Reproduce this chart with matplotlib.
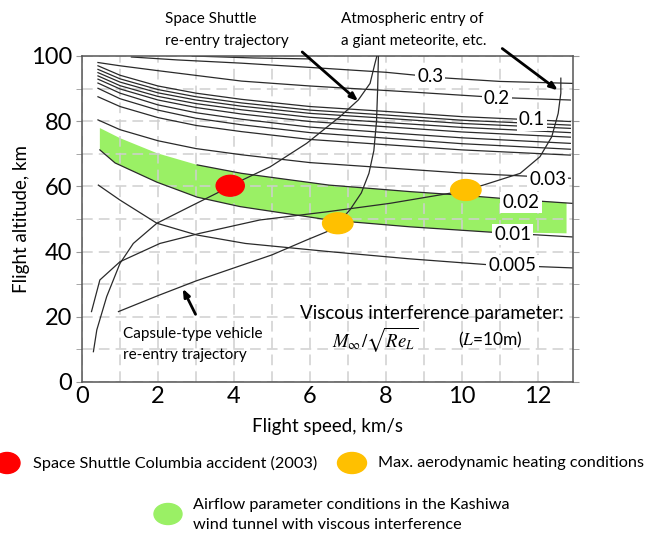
import matplotlib.pyplot as plt
from matplotlib.patches import Ellipse
from matplotlib.ticker import MultipleLocator

plt.rcParams["font.family"] = ["Lato", "DejaVu Sans"]
plt.rcParams["mathtext.fontset"] = "stix"

# viscous interference parameter contours
fan_x = [0.42, 1.0, 2.0, 3.0, 4.2, 6.0, 8.0, 10.0, 12.85]
fan_lines = [
    [97.0, 94.1, 90.8, 88.6, 86.7, 84.5, 83.0, 81.4, 79.9],  # 0.1
    [95.9, 93.0, 89.7, 87.5, 85.6, 83.4, 81.9, 80.3, 78.8],
    [94.9, 92.0, 88.7, 86.5, 84.6, 82.4, 80.9, 79.3, 77.8],
    [93.9, 90.9, 87.6, 85.4, 83.5, 81.2, 79.6, 78.1, 76.5],
    [92.9, 89.9, 86.5, 84.2, 82.2, 79.9, 78.3, 76.7, 75.1],
    [91.7, 88.6, 85.0, 82.6, 80.6, 78.2, 76.5, 74.9, 73.2],
    [90.1, 86.9, 83.4, 80.9, 78.9, 76.5, 74.8, 73.1, 71.4],
    [87.5, 84.5, 81.1, 78.7, 76.8, 74.4, 72.8, 71.2, 69.6],
    [80.4, 77.4, 74.0, 71.6, 69.7, 67.3, 65.7, 64.1, 62.5],  # 0.03
]
p03_x = [1.3, 2.5, 4.2, 6.0, 8.0, 9.5, 11.0, 12.9]
p03_y = [99.7, 98.8, 97.8, 96.5, 95.0, 93.3, 92.2, 91.6]
p04_x = [2.9, 4.5, 6.0]
p04_y = [100.0, 99.4, 99.1]
p02_x = [0.42, 1.0, 2.0, 4.2, 6.0, 8.6, 10.9, 12.85]
p02_y = [98.0, 97.0, 95.5, 92.3, 90.8, 89.0, 87.3, 86.5]
p002_x = [3.03, 4.2, 6.5, 8.63, 10.0, 11.5, 12.9]
p002_y = [66.6, 64.0, 60.4, 58.4, 57.3, 55.9, 54.8]
p001_x = [0.47, 0.87, 1.97, 3.03, 4.16, 6.5, 8.63, 10.7, 12.9]
p001_y = [71.2, 67.2, 61.3, 56.7, 53.8, 49.7, 47.6, 46.0, 44.5]
p0005_x = [0.43, 1.0, 1.97, 3.02, 4.3, 6.5, 8.6, 10.66, 12.9]
p0005_y = [60.4, 55.8, 48.7, 45.1, 42.5, 40.0, 37.8, 36.0, 35.0]

# Kashiwa wind tunnel band
green_top_x = [0.47, 1.0, 1.97, 3.03, 4.2, 6.5, 8.63, 10.0, 11.5, 12.75]
green_top_y = [77.9, 74.8, 70.2, 66.6, 64.0, 60.4, 58.4, 57.3, 55.9, 55.0]
green_bot_x = [12.75, 10.7, 8.63, 6.5, 4.16, 3.03, 1.97, 0.87, 0.47]
green_bot_y = [45.6, 46.0, 47.6, 49.7, 53.8, 56.7, 61.3, 67.2, 71.2]

# trajectories
shuttle_x = [0.30, 0.39, 0.65, 1.0, 1.35, 1.97, 2.84, 3.63, 3.9, 4.95, 5.91, 6.79, 7.27, 7.58, 7.71, 7.76]
shuttle_y = [9.3, 16.0, 26.2, 36.4, 42.5, 48.7, 53.8, 58.4, 60.2, 66.0, 73.2, 81.4, 86.5, 91.6, 97.8, 100.0]
capsule_x = [0.96, 2.0, 3.0, 4.0, 5.0, 5.9, 6.44, 6.73, 7.05, 7.35, 7.55, 7.68, 7.75, 7.78, 7.8]
capsule_y = [21.6, 26.5, 31.0, 35.0, 39.0, 43.5, 46.1, 48.7, 52.8, 58.0, 64.0, 71.0, 80.0, 90.0, 100.0]
meteor_x = [0.25, 0.47, 1.0, 2.05, 3.1, 4.68, 6.44, 8.1, 9.68, 10.1, 10.56, 11.53, 12.05, 12.36, 12.53, 12.6, 12.6]
meteor_y = [21.6, 31.3, 36.9, 42.5, 45.6, 49.7, 52.2, 54.8, 57.9, 58.9, 60.4, 64.0, 69.1, 75.2, 82.4, 88.6, 93.2]

columbia = (3.9, 60.2)
max_heating_x = [6.73, 10.1]
max_heating_y = [48.7, 58.9]

contour_labels = ["0.3", "0.2", "0.1", "0.03", "0.02", "0.01", "0.005"]
label_x = [9.16, 10.92, 11.84, 12.25, 11.55, 11.33, 11.33]
label_y = [93.6, 87.0, 80.4, 62.0, 55.1, 45.2, 35.7]

W, H = 655, 534


def fpos(x, y):
    return x / W, 1 - y / H


fig = plt.figure(figsize=(6.55, 5.34), dpi=100)
ax = fig.add_axes([82 / W, 1 - 382 / H, (573 - 82) / W, (382 - 56) / H])
ax.set_xlim(0, 12.92)
ax.set_ylim(0, 100)

ax.xaxis.set_major_locator(MultipleLocator(2))
ax.xaxis.set_minor_locator(MultipleLocator(1))
ax.yaxis.set_major_locator(MultipleLocator(20))
ax.yaxis.set_minor_locator(MultipleLocator(10))
ax.grid(True, which="both", color="#CFCFCF", linestyle=(0, (7, 4)), linewidth=1.1, zorder=0)
ax.tick_params(axis="both", which="both", labelsize=17, length=0, pad=3)
ax.tick_params(axis="y", which="both", right=True, length=4, color="#999999")
for s in ax.spines.values():
    s.set_color("#555555")
    s.set_linewidth(1.1)

ax.fill(green_top_x + green_bot_x, green_top_y + green_bot_y, color="#9AF065", lw=0, zorder=1)

lc = "#2a2a2a"
for ys in fan_lines:
    ax.plot(fan_x, ys, color=lc, lw=0.9, zorder=2)
for xs, ys in [(p03_x, p03_y), (p04_x, p04_y), (p02_x, p02_y), (p002_x, p002_y),
               (p001_x, p001_y), (p0005_x, p0005_y)]:
    ax.plot(xs, ys, color=lc, lw=0.9, zorder=2)

for xs, ys in [(shuttle_x, shuttle_y), (capsule_x, capsule_y), (meteor_x, meteor_y)]:
    ax.plot(xs, ys, color=lc, lw=0.9, zorder=3)

for lab, x, y in zip(contour_labels, label_x, label_y):
    ax.text(x, y, lab, fontsize=13.5, ha="center", va="center", zorder=4,
            bbox=dict(boxstyle="square,pad=0.12", fc="white", ec="none"))

ax.add_patch(Ellipse(columbia, 0.74, 6.4, color="#FF0000", zorder=5))
for x, y in zip(max_heating_x, max_heating_y):
    ax.add_patch(Ellipse((x, y), 0.8, 6.4, color="#FFC000", zorder=5))

arrow = dict(arrowstyle="-|>,head_length=0.45,head_width=0.18", color="black", lw=2)
ax.annotate("", xy=(7.32, 85.6), xytext=(5.74, 101.8), arrowprops=arrow, annotation_clip=False)
ax.annotate("", xy=(12.58, 89.0), xytext=(11.0, 102.8), arrowprops=arrow, annotation_clip=False)
ax.annotate("", xy=(2.62, 29.4), xytext=(3.02, 20.0), arrowprops=arrow, annotation_clip=False)

ax.set_xlabel("Flight speed, km/s", fontsize=13.5, labelpad=8)
ax.set_ylabel("Flight altitude, km", fontsize=13.5, labelpad=1)

fig.text(*fpos(165, 12), "Space Shuttle\nre-entry trajectory", fontsize=11, va="top", linespacing=1.75)
fig.text(*fpos(341, 12), "Atmospheric entry of\na giant meteorite, etc.", fontsize=11, va="top", linespacing=1.75)
fig.text(*fpos(123, 327), "Capsule-type vehicle\nre-entry trajectory", fontsize=11, va="top", linespacing=1.6)
fig.text(*fpos(300, 314), "Viscous interference parameter:", fontsize=13.5, va="center")
fig.text(*fpos(375, 340), r"$M_{\infty}/\sqrt{Re_L}$", fontsize=13.5, va="center", ha="center")
fig.text(*fpos(490, 340), r"($\mathit{L}$=10m)", fontsize=12.5, va="center", ha="center")

# legend drawn below the axes
leg = fig.add_axes([0, 0, 1, 1 - 440 / H])
leg.set_xlim(0, W)
leg.set_ylim(H, 440)
leg.axis("off")
leg.add_patch(Ellipse((7, 463), 26, 21, color="#FF0000"))
leg.text(33, 463, "Space Shuttle Columbia accident (2003)", fontsize=11.7, va="center")
leg.add_patch(Ellipse((352, 463), 29, 21, color="#FFC000"))
leg.text(378, 463, "Max. aerodynamic heating conditions", fontsize=11.7, va="center")
leg.add_patch(Ellipse((168, 514), 28, 21, color="#9AF065"))
leg.text(193, 515, "Airflow parameter conditions in the Kashiwa\nwind tunnel with viscous interference",
         fontsize=11.7, va="center", linespacing=1.55)

fig.savefig("out.png", dpi=100)
